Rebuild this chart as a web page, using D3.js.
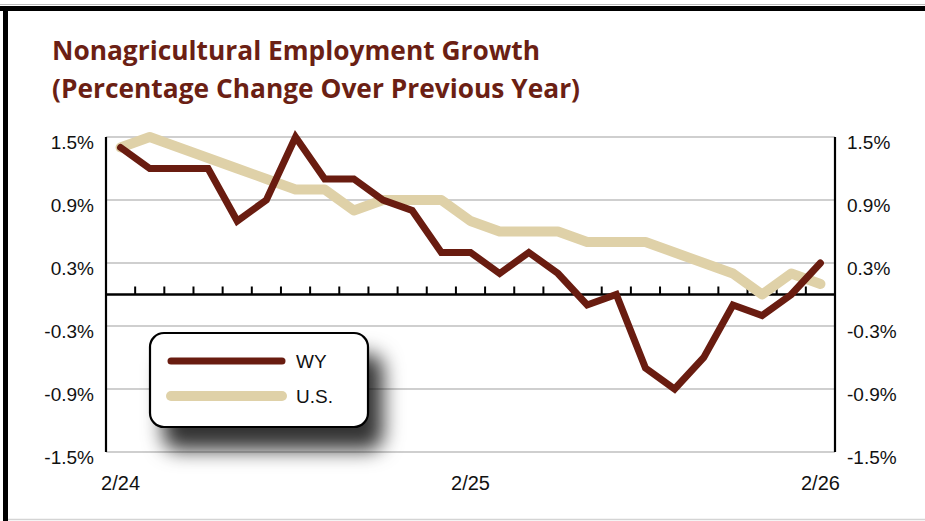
<!DOCTYPE html>
<html>
<head>
<meta charset="utf-8">
<script src="https://cdn.jsdelivr.net/npm/d3@7"></script>
<style>
  body { margin: 0; background: #fff; }
  svg { display: block; }
</style>
</head>
<body>
<script>
// Chart size matches the window
var width = 925,
    height = 521;

// Monthly categories, 2/24 through 2/26
var months = ['2/24', '3/24', '4/24', '5/24', '6/24', '7/24', '8/24', '9/24', '10/24', '11/24', '12/24',
  '1/25', '2/25', '3/25', '4/25', '5/25', '6/25', '7/25', '8/25', '9/25', '10/25', '11/25', '12/25',
  '1/26', '2/26'];

// Percentage change over previous year
var wy = [1.4, 1.2, 1.2, 1.2, 0.7, 0.9, 1.5, 1.1, 1.1, 0.9, 0.8, 0.4, 0.4,
  0.2, 0.4, 0.2, -0.1, 0.0, -0.7, -0.9, -0.6, -0.1, -0.2, 0.0, 0.3];
var us = [1.4, 1.5, 1.4, 1.3, 1.2, 1.1, 1.0, 1.0, 0.8, 0.9, 0.9, 0.9, 0.7,
  0.6, 0.6, 0.6, 0.5, 0.5, 0.5, 0.4, 0.3, 0.2, 0.0, 0.2, 0.1];

// Axis tick values and labels
var yTicks = [1.5, 0.9, 0.3, -0.3, -0.9, -1.5];
var xLabels = ['2/24', '2/25', '2/26'];
var titleLines = ['Nonagricultural Employment Growth', '(Percentage Change Over Previous Year)'];

var maroon = '#691c10',
    beige = '#dfd1a8';

// Plot area (names avoid window.top and friends)
var plotL = 106, plotR = 835, plotT = 137, plotB = 452;

var x = d3.scaleBand().domain(months).range([plotL, plotR]);
var y = d3.scaleLinear().domain([-1.5, 1.5]).range([plotB, plotT]);

function cx(d) { return x(d) + x.bandwidth() / 2; }

var svg = d3.select('body')
  .append('svg')
  .attr('width', width)
  .attr('height', height);

// Drop shadow used by the legend box
var shadow = svg.append('defs').append('filter')
  .attr('id', 'shadow')
  .attr('x', '-30%').attr('y', '-30%')
  .attr('width', '180%').attr('height', '200%');
shadow.append('feDropShadow')
  .attr('dx', 14).attr('dy', 22)
  .attr('stdDeviation', 10)
  .attr('flood-color', '#000')
  .attr('flood-opacity', 0.8);

// Frame: thin grey line, thick black top and left border, grey bottom line
svg.append('line').attr('x1', 0).attr('x2', width).attr('y1', 4.5).attr('y2', 4.5)
  .attr('stroke', '#bbb').attr('stroke-width', 1);
svg.append('rect').attr('x', 0).attr('y', 6).attr('width', width).attr('height', 5).attr('fill', '#000');
svg.append('rect').attr('x', 3).attr('y', 6).attr('width', 5).attr('height', height - 6).attr('fill', '#000');
svg.append('line').attr('x1', 8).attr('x2', width).attr('y1', 519.5).attr('y2', 519.5)
  .attr('stroke', '#d4d4d4').attr('stroke-width', 1.5);

// Title
svg.append('g').selectAll('text')
  .data(titleLines)
  .enter().append('text')
  .attr('x', 52)
  .attr('y', function(d, i) { return 60 + i * 38; })
  .attr('textLength', function(d, i) { return i ? 528 : 488; })
  .attr('lengthAdjust', 'spacingAndGlyphs')
  .style('font-family', '"Open Sans", "DejaVu Sans", sans-serif')
  .style('font-weight', 'bold')
  .style('font-size', '27px')
  .attr('fill', '#6b1f14')
  .text(function(d) { return d; });

// Horizontal grid lines
svg.append('g').selectAll('line')
  .data(yTicks)
  .enter().append('line')
  .attr('x1', plotL).attr('x2', plotR)
  .attr('y1', function(d) { return y(d); })
  .attr('y2', function(d) { return y(d); })
  .attr('stroke', '#a0a0a0')
  .attr('stroke-width', 1.2);

// Left and right value axes; labels sit a little below their grid line
var fmt = function(d) { return d.toFixed(1) + '%'; };
[[d3.axisLeft, plotL], [d3.axisRight, plotR]].forEach(function(a) {
  var g = svg.append('g')
    .attr('transform', 'translate(' + a[1] + ',0)')
    .call(a[0](y).tickValues(yTicks).tickFormat(fmt).tickSize(0).tickPadding(12));
  g.select('.domain').remove();
  g.selectAll('text')
    .attr('dy', '0.62em')
    .style('font-family', '"Liberation Sans", Arial, sans-serif')
    .style('font-size', '19px')
    .attr('fill', '#111');
  svg.append('line')
    .attr('x1', a[1]).attr('x2', a[1])
    .attr('y1', plotT).attr('y2', plotB)
    .attr('stroke', '#000').attr('stroke-width', 2.2);
});

// Zero line with tick marks between the months
var y0 = y(0);
svg.append('line')
  .attr('x1', plotL).attr('x2', plotR)
  .attr('y1', y0).attr('y2', y0)
  .attr('stroke', '#000').attr('stroke-width', 2.4);
svg.append('g').selectAll('line')
  .data(months.slice(1))
  .enter().append('line')
  .attr('x1', function(d) { return x(d); })
  .attr('x2', function(d) { return x(d); })
  .attr('y1', y0 - 8).attr('y2', y0)
  .attr('stroke', '#000').attr('stroke-width', 2);

// Category labels
var xAxis = svg.append('g')
  .attr('transform', 'translate(0,' + plotB + ')')
  .call(d3.axisBottom(x).tickValues(xLabels).tickSize(0).tickPadding(24));
xAxis.select('.domain').remove();
xAxis.selectAll('text')
  .style('font-family', '"Liberation Sans", Arial, sans-serif')
  .style('font-size', '20px')
  .attr('fill', '#111');

// The two series
var line = d3.line()
  .x(function(d, i) { return cx(months[i]); })
  .y(function(d) { return y(d); });

svg.append('path')
  .datum(us)
  .attr('d', line)
  .attr('fill', 'none')
  .attr('stroke', beige)
  .attr('stroke-width', 10)
  .attr('stroke-linejoin', 'round')
  .attr('stroke-linecap', 'round');

svg.append('path')
  .datum(wy)
  .attr('d', line)
  .attr('fill', 'none')
  .attr('stroke', maroon)
  .attr('stroke-width', 7)
  .attr('stroke-linejoin', 'miter')
  .attr('stroke-linecap', 'round');

// Legend
var legend = svg.append('g').attr('transform', 'translate(150,333)');
legend.append('rect')
  .attr('width', 218).attr('height', 94)
  .attr('rx', 14).attr('ry', 14)
  .attr('fill', '#fff')
  .attr('stroke', '#000')
  .attr('stroke-width', 2.2)
  .attr('filter', 'url(#shadow)');

var items = legend.selectAll('.item')
  .data([['WY', maroon, 7], ['U.S.', beige, 10]])
  .enter().append('g')
  .attr('class', 'item')
  .attr('transform', function(d, i) { return 'translate(0,' + (28 + i * 35) + ')'; });
items.append('line')
  .attr('x1', 21).attr('x2', 132)
  .attr('stroke', function(d) { return d[1]; })
  .attr('stroke-width', function(d) { return d[2]; })
  .attr('stroke-linecap', 'round');
items.append('text')
  .attr('x', 146)
  .attr('dy', '0.35em')
  .style('font-family', '"Liberation Sans", Arial, sans-serif')
  .style('font-size', '19px')
  .attr('fill', '#111')
  .text(function(d) { return d[0]; });
</script>
</body>
</html>
